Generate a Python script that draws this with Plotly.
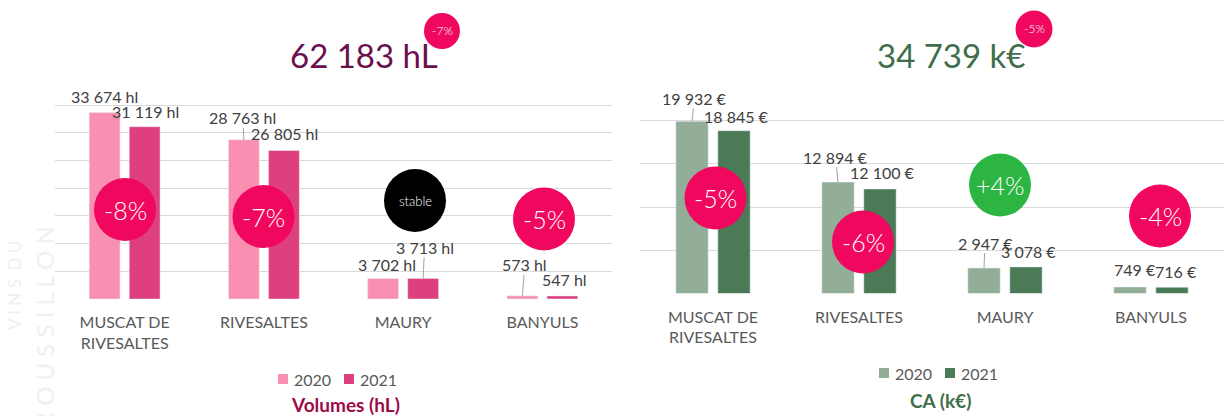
import plotly.graph_objects as go

W, H = 1224, 416

# ---------------- data ----------------
categories = ["MUSCAT DE<br>RIVESALTES", "RIVESALTES", "MAURY", "BANYULS"]
years = ["2020", "2021"]
volumes_2020 = [33674, 28763, 3702, 573]
volumes_2021 = [31119, 26805, 3713, 547]
ca_2020 = [19932, 12894, 2947, 749]
ca_2021 = [18845, 12100, 3078, 716]
volume_changes = ["-8%", "-7%", "stable", "-5%"]
ca_changes = ["-5%", "-6%", "+4%", "-4%"]
volume_total = "62 183 hL"
ca_total = "34 739 k€"
volume_total_change = "-7%"
ca_total_change = "-5%"

# ---------------- style ----------------
PINK_LIGHT = "#F990B1"
PINK_DARK = "#DE3F7D"
GREEN_LIGHT = "#93AE98"
GREEN_DARK = "#4A7A56"
BADGE_RED = "#F0085E"
BADGE_GREEN = "#2DB543"
BADGE_BLACK = "#000000"
GRID = "#D9D9D9"
LABEL = "#404040"
TICK = "#595959"
FONT = "Lato"
BARGAP = 0.425
BARGROUPGAP = 0.23


def PX(x):
    return x / W


def PY(y):
    return 1 - y / H


def fmt(v, unit):
    return f"{v:,}".replace(",", " ") + " " + unit


fig = go.Figure()
fig.add_trace(go.Bar(x=categories, y=volumes_2020, name=years[0], marker_color=PINK_LIGHT,
                     xaxis="x", yaxis="y", showlegend=False))
fig.add_trace(go.Bar(x=categories, y=volumes_2021, name=years[1], marker_color=PINK_DARK,
                     xaxis="x", yaxis="y", showlegend=False))
fig.add_trace(go.Bar(x=categories, y=ca_2020, name=years[0], marker_color=GREEN_LIGHT,
                     xaxis="x2", yaxis="y2", showlegend=False))
fig.add_trace(go.Bar(x=categories, y=ca_2021, name=years[1], marker_color=GREEN_DARK,
                     xaxis="x2", yaxis="y2", showlegend=False))

annotations = []
shapes = []

# ---- data labels (offset in pixels from bar tops) ----
off = (1 - BARGAP) / 4
vol_offsets_2020 = [(0, -16, False), (-1, -22, True), (3.5, -14, False), (2.5, -31, True)]
vol_offsets_2021 = [(1, -15, False), (1, -17, False), (1.5, -31, True), (2, -16, False)]
ca_offsets_2020 = [(2.5, -23, True), (-2.5, -25, True), (1, -25, True), (4.5, -17.5, False)]
ca_offsets_2021 = [(3, -14, False), (2.5, -16.5, False), (2.5, -15, False), (4, -16, False)]


def add_labels(vals, offsets, sign, unit, xr, yr):
    for i, (v, (ax, ay, line)) in enumerate(zip(vals, offsets)):
        annotations.append(dict(
            x=i + sign * off, y=v, xref=xr, yref=yr, text=fmt(v, unit),
            showarrow=True, ax=ax, ay=ay, arrowhead=0, arrowwidth=0.8, standoff=0,
            arrowcolor="#8C8C8C" if line else "rgba(0,0,0,0)",
            font=dict(family=FONT, size=16, color=LABEL), borderpad=0,
        ))


add_labels(volumes_2020, vol_offsets_2020, -1, "hl", "x", "y")
add_labels(volumes_2021, vol_offsets_2021, 1, "hl", "x", "y")
add_labels(ca_2020, ca_offsets_2020, -1, "€", "x2", "y2")
add_labels(ca_2021, ca_offsets_2021, 1, "€", "x2", "y2")


# ---- change badges ----
def badge(cx, cy, w, h, color, text, size):
    shapes.append(dict(type="circle", xref="paper", yref="paper",
                       x0=PX(cx - w / 2), x1=PX(cx + w / 2), y0=PY(cy + h / 2), y1=PY(cy - h / 2),
                       fillcolor=color, line=dict(width=0), layer="above"))
    annotations.append(dict(x=PX(cx), y=PY(cy), xref="paper", yref="paper", text=text,
                            showarrow=False, xanchor="center", yanchor="middle",
                            font=dict(family=FONT, size=size, color="white", weight=300)))


vol_badges = [(125, 209.5), (263.5, 216.5), (415, 200.5), (544, 219)]
ca_badges = [(715.5, 198), (863, 242), (1000, 185), (1160, 216)]
for (cx, cy), t in zip(vol_badges, volume_changes):
    col = BADGE_BLACK if t == "stable" else BADGE_RED
    badge(cx, cy, 62, 63, col, t, 13 if t == "stable" else 25)
for (cx, cy), t in zip(ca_badges, ca_changes):
    col = BADGE_GREEN if t.startswith("+") else BADGE_RED
    badge(cx, cy, 62, 63, col, t, 25)

badge(442, 31, 36, 36, BADGE_RED, volume_total_change, 12)
badge(1034, 29, 37, 37, BADGE_RED, ca_total_change, 12)

# ---- titles ----
annotations.append(dict(x=PX(364), y=PY(55), xref="paper", yref="paper", text=volume_total,
                        showarrow=False, xanchor="center", yanchor="middle",
                        font=dict(family=FONT, size=33, color="#6B0F4E", weight=400)))
annotations.append(dict(x=PX(951), y=PY(55), xref="paper", yref="paper", text=ca_total,
                        showarrow=False, xanchor="center", yanchor="middle",
                        font=dict(family=FONT, size=33, color="#3F6E4B", weight=400)))
annotations.append(dict(x=PX(345), y=PY(404), xref="paper", yref="paper", text="<b>Volumes (hL)</b>",
                        showarrow=False, xanchor="center", yanchor="middle",
                        font=dict(family=FONT, size=19, color="#9E0B47")))
annotations.append(dict(x=PX(940), y=PY(400), xref="paper", yref="paper", text="<b>CA (k€)</b>",
                        showarrow=False, xanchor="center", yanchor="middle",
                        font=dict(family=FONT, size=19, color="#3F6E4B")))


# ---- legends (drawn manually) ----
def legend(x_start, y, colors):
    x = x_start
    for col, yr in zip(colors, years):
        shapes.append(dict(type="rect", xref="paper", yref="paper",
                           x0=PX(x), x1=PX(x + 10), y0=PY(y + 5), y1=PY(y - 5),
                           fillcolor=col, line=dict(width=0)))
        annotations.append(dict(x=PX(x + 14), y=PY(y), xref="paper", yref="paper", text=yr,
                                showarrow=False, xanchor="left", yanchor="middle",
                                font=dict(family=FONT, size=16, color=TICK)))
        x += 66


legend(278, 379, [PINK_LIGHT, PINK_DARK])
legend(879, 373, [GREEN_LIGHT, GREEN_DARK])

# ---- faint watermark ----
annotations.append(dict(x=PX(14), y=PY(286), xref="paper", yref="paper", text="V I N S  D U",
                        showarrow=False, textangle=-90, xanchor="center", yanchor="middle",
                        font=dict(family=FONT, size=17, color="#F0F0F0")))
annotations.append(dict(x=PX(44), y=PY(327), xref="paper", yref="paper", text="R O U S S I L L O N",
                        showarrow=False, textangle=-90, xanchor="center", yanchor="middle",
                        font=dict(family=FONT, size=24, color="#F0F0F0")))

xaxis_common = dict(type="category", showgrid=False, zeroline=False, showline=False, ticks="",
                    tickfont=dict(family=FONT, size=16, color=TICK), ticklabelstandoff=12,
                    fixedrange=True)
yaxis_common = dict(showticklabels=False, showgrid=True, gridcolor=GRID, gridwidth=1,
                    zeroline=False, showline=False, ticks="", fixedrange=True)

fig.update_layout(
    width=W, height=H, margin=dict(l=0, r=0, t=0, b=0),
    paper_bgcolor="white", plot_bgcolor="white",
    barmode="group", bargap=BARGAP, bargroupgap=BARGROUPGAP,
    xaxis=dict(domain=[PX(55), PX(612)], anchor="y", **xaxis_common),
    yaxis=dict(domain=[PY(299), PY(77.5)], anchor="x", range=[0, 40000], dtick=5000, **yaxis_common),
    xaxis2=dict(domain=[PX(640), PX(1224)], anchor="y2", **xaxis_common),
    yaxis2=dict(domain=[PY(293.5), PY(77.5)], anchor="x2", range=[0, 25000], dtick=5000, **yaxis_common),
    annotations=annotations, shapes=shapes,
    font=dict(family=FONT),
)

fig.write_html("out.html", include_plotlyjs=True, config={"displayModeBar": False},
               post_script="document.body.style.margin='0';document.body.style.overflow='hidden';")
